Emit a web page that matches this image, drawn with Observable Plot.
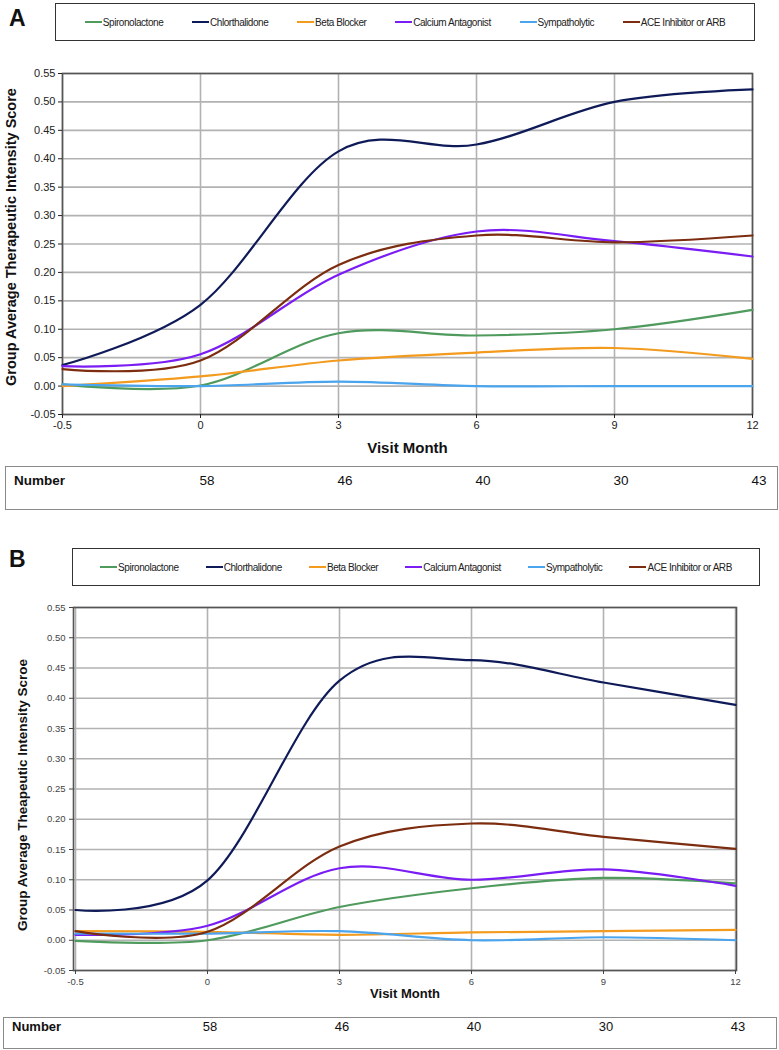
<!DOCTYPE html>
<html><head><meta charset="utf-8">
<script src="https://cdn.jsdelivr.net/npm/d3@7"></script>
<script src="https://cdn.jsdelivr.net/npm/@observablehq/plot@0.6"></script>
<style>
body{margin:0;background:#fff;}
#root{position:relative;width:779px;height:1050px;overflow:hidden;background:#fff;font-family:"Liberation Sans",Arial,sans-serif;}
.abs{position:absolute;white-space:nowrap;}
.letter{font-weight:bold;font-size:23px;font-family:"Liberation Sans",Arial,sans-serif;color:#111;}
.legend{position:absolute;border:1.5px solid #333;box-sizing:border-box;display:flex;align-items:center;justify-content:space-evenly;background:#fff;}
.li{display:flex;align-items:center;white-space:nowrap;font-size:10px;letter-spacing:-0.45px;font-family:"Liberation Sans",Arial,sans-serif;color:#222;}
.li span.sw{display:inline-block;width:17px;height:2.5px;margin-right:1px;}
.tbl{position:absolute;border:1.5px solid #8a8a8a;box-sizing:border-box;background:#fff;}
.cell{position:absolute;white-space:nowrap;transform:translateX(-50%);}
</style></head><body>
<div id="root"></div>
<script>
// ---- data ----
const months = ["-0.5","0","3","6","9","12"];
const seriesNames = ["Spironolactone","Chlorthalidone","Beta Blocker","Calcium Antagonist","Sympatholytic","ACE Inhibitor or ARB"];
const seriesColors = ["#4f9a5d","#0f1b58","#f39b1f","#7a1cf4","#4ba4ee","#7c2c0f"];
const yTicks = [-0.05,0.00,0.05,0.10,0.15,0.20,0.25,0.30,0.35,0.40,0.45,0.50,0.55];
const countMonths = ["0","3","6","9","12"];
const counts = [58,46,40,30,43];

// Panel A
const spiroA   = [0.003, 0.001, 0.093, 0.089, 0.100, 0.134];
const chlorA   = [0.037, 0.143, 0.413, 0.425, 0.500, 0.522];
const betaA    = [0.000, 0.017, 0.045, 0.059, 0.067, 0.048];
const calciumA = [0.035, 0.056, 0.196, 0.272, 0.255, 0.228];
const sympA    = [0.003, 0.000, 0.008, 0.000, 0.000, 0.000];
const aceA     = [0.030, 0.045, 0.213, 0.265, 0.253, 0.265];

// Panel B
const spiroB   = [-0.001, 0.000, 0.055, 0.086, 0.103, 0.094];
const chlorB   = [0.050, 0.099, 0.429, 0.463, 0.426, 0.389];
const betaB    = [0.015, 0.014, 0.009, 0.013, 0.015, 0.017];
const calciumB = [0.009, 0.024, 0.119, 0.100, 0.117, 0.090];
const sympB    = [0.011, 0.011, 0.015, 0.000, 0.005, 0.000];
const aceB     = [0.015, 0.014, 0.155, 0.193, 0.171, 0.151];

const yLabelA = "Group Average Therapeutic Intensity Score";
const yLabelB = "Group Average Theapeutic Intensity Scroe";
const xLabel = "Visit Month";

function rows(arrs){
  const out = [];
  arrs.forEach((vals, i) => vals.forEach((v, j) => out.push({series: seriesNames[i], month: months[j], value: v})));
  return out;
}
const dataA = rows([spiroA, chlorA, betaA, calciumA, sympA, aceA]);
const dataB = rows([spiroB, chlorB, betaB, calciumB, sympB, aceB]);

const root = document.getElementById("root");
function el(tag, cls, style, text){
  const e = document.createElement(tag);
  if (cls) e.className = cls;
  Object.assign(e.style, style || {});
  if (text != null) e.textContent = text;
  root.appendChild(e);
  return e;
}

function legend(box){
  const lg = el("div","legend",box);
  seriesNames.forEach((n,i)=>{
    const it = document.createElement("div"); it.className="li";
    const sw = document.createElement("span"); sw.className="sw"; sw.style.background = seriesColors[i];
    it.appendChild(sw); it.appendChild(document.createTextNode(n));
    lg.appendChild(it);
  });
}

const regF = '"Liberation Sans",Arial,sans-serif';

function chart(opts){
  const c = Plot.plot({
    width: 779, height: opts.height,
    marginTop: opts.mt, marginBottom: opts.mb, marginLeft: opts.ml, marginRight: opts.mr,
    style: {background: "transparent", fontFamily: regF, overflow: "visible"},
    x: {type: "point", domain: months, padding: 0},
    y: {domain: [-0.05, 0.55]},
    color: {domain: seriesNames, range: seriesColors},
    marks: [
      Plot.gridY(yTicks, {stroke: "#b2b2b2", strokeOpacity: 1, strokeWidth: 1.6}),
      Plot.gridX(months, {stroke: "#b2b2b2", strokeOpacity: 1, strokeWidth: 1.6}),
      Plot.frame({stroke: "#555", strokeWidth: 1.6}),
      Plot.axisY(yTicks, {label: null, tickFormat: d => d.toFixed(2), tickSize: 4, tickPadding: opts.ytp,
        fontSize: opts.yfs, color: opts.tickColor}),
      Plot.axisX(months, {label: null, tickSize: 4, tickPadding: opts.xtp,
        fontSize: opts.xfs, color: opts.tickColor}),
      Plot.lineY(opts.data, {x: "month", y: "value", stroke: "series", strokeWidth: 2.2, curve: "cardinal"}),
      Plot.text([xLabel], {frameAnchor: "bottom", dy: opts.xldy, fontSize: opts.xlfs, fontWeight: "bold", fill: "#111"}),
      Plot.text([opts.ylabel], {frameAnchor: "left", textAnchor: "middle", rotate: -90, dx: opts.yldx, dy: opts.yldy, fontSize: opts.ylfs, fontWeight: "bold", fill: "#111"})
    ]
  });
  c.style.position = "absolute";
  c.style.left = "0px";
  c.style.top = opts.top + "px";
  root.appendChild(c);
  return c;
}

function table(c, box, s){
  el("div","tbl",{left: box.left + "px", top: box.top + "px", width: box.width + "px", height: box.height + "px"});
  const x = c.scale("x");
  el("div","abs",{left: (box.left + 9) + "px", top: s.top + "px", fontWeight: "bold", fontSize: s.nfs, color:"#111"}, "Number");
  counts.forEach((n,i)=>{
    el("div","cell",{left: (x.apply(countMonths[i]) + s.off) + "px", top: s.top + "px", fontSize: s.fs, color:"#111"}, String(n));
  });
}

// ---- Panel A ----
el("div","abs letter",{left:"9px", top:"5px"},"A");
legend({left:"55px", top:"3px", width:"700px", height:"38px"});
const cA = chart({
  top: 45, height: 425, mt: 28, mb: 56, ml: 62, mr: 27, data: dataA,
  ytp: 3, yfs: 11, xtp: 3, xfs: 11, tickColor: "#222",
  xldy: 38, xlfs: 15,
  ylabel: yLabelA, yldx: -51, yldy: -7, ylfs: 14.5
});
table(cA, {left:5, top:466, width:773, height:44}, {top: 473, nfs:"13.5px", fs:"13.5px", off: 7});

// ---- Panel B ----
el("div","abs letter",{left:"9px", top:"546px"},"B");
legend({left:"72px", top:"548px", width:"688px", height:"38px"});
const cB = chart({
  top: 595, height: 417, mt: 12, mb: 42, ml: 73, mr: 43, data: dataB,
  ytp: 4, yfs: 9.5, xtp: 4, xfs: 9.5, tickColor: "#444",
  xldy: 27, xlfs: 13,
  ylabel: yLabelB, yldx: -51, yldy: 6, ylfs: 13.5
});
table(cB, {left:3, top:1017, width:774, height:32}, {top: 1019, nfs:"13px", fs:"13px", off: 3});
</script>
</body></html>
